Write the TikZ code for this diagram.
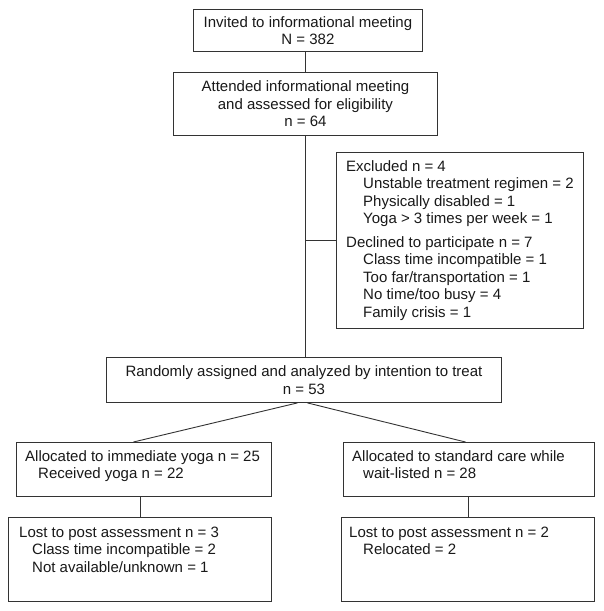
\documentclass[tikz,border=0pt]{standalone}
\usepackage{fontspec}
\setmainfont{Liberation Sans}
\usetikzlibrary{calc}
\begin{document}
\begin{tikzpicture}[x=1pt,y=-1pt,
  box/.style={draw=black!80, line width=0.9pt, rectangle, inner sep=0pt, anchor=north west},
  ctext/.style={align=center, font=\fontsize{15}{17.5}\selectfont, text=black!90},
  ltext/.style={anchor=north west, inner sep=0pt, font=\fontsize{15}{17.5}\selectfont, text=black!90},
  conn/.style={draw=black!80, line width=0.9pt}]
\useasboundingbox[fill=white] (0,0) rectangle (604,611);

% boxes
\node[box, ctext, minimum width=229pt, minimum height=42pt] (b1) at (193,9)
  {Invited to informational meeting\\N = 382};
\node[box, ctext, minimum width=264pt, minimum height=63pt] (b2) at (173,72)
  {Attended informational meeting\\and assessed for eligibility\\n = 64};
\node[box, minimum width=247pt, minimum height=176pt] (ex) at (336,152) {};
\node[box, ctext, minimum width=395pt, minimum height=45pt] (b3) at (106,357)
  {Randomly assigned and analyzed by intention to treat\\n = 53};
\node[box, minimum width=255pt, minimum height=54pt] (L1) at (16,442) {};
\node[box, minimum width=251pt, minimum height=54pt] (R1) at (343,442) {};
\node[box, minimum width=263pt, minimum height=84pt] (L2) at (8,517) {};
\node[box, minimum width=253pt, minimum height=84pt] (R2) at (341,517) {};

% texts in left-aligned boxes
\node[ltext] (extext) at (346,158.75) {\begin{tabular}{@{}l@{}}
Excluded n = 4\\
\hspace*{17pt}Unstable treatment regimen = 2\\
\hspace*{17pt}Physically disabled = 1\\
\hspace*{17pt}Yoga > 3 times per week = 1\\[6pt]
Declined to participate n = 7\\
\hspace*{17pt}Class time incompatible = 1\\
\hspace*{17pt}Too far/transportation = 1\\
\hspace*{17pt}No time/too busy = 4\\
\hspace*{17pt}Family crisis = 1
\end{tabular}};
\node[ltext] (l1text) at (25,449) {\begin{tabular}{@{}l@{}}
Allocated to immediate yoga n = 25\\
\hspace*{13pt}Received yoga n = 22
\end{tabular}};
\node[ltext] (r1text) at (352,449) {\begin{tabular}{@{}l@{}}
Allocated to standard care while\\
\hspace*{11pt}wait-listed n = 28
\end{tabular}};
\node[ltext] (l2text) at (19,525) {\begin{tabular}{@{}l@{}}
Lost to post assessment n = 3\\
\hspace*{13pt}Class time incompatible = 2\\
\hspace*{13pt}Not available/unknown = 1
\end{tabular}};
\node[ltext] (r2text) at (349,525) {\begin{tabular}{@{}l@{}}
Lost to post assessment n = 2\\
\hspace*{14pt}Relocated = 2
\end{tabular}};

% connectors
\draw[conn] (b2.north) -- (b2.north |- b1.south);
\draw[conn] (b2.south) -- (b2.south |- b3.north);
\draw[conn] (b2.south |- ex.west) -- (ex.west);
\draw[conn] ($(b3.south)+(-6.5,0)$) -- ($(L1.north)+(-10.5,0)$);
\draw[conn] ($(b3.south)+(3.5,0)$) -- ($(R1.north)+(-3.5,0)$);
\draw[conn] (L2.north) -- (L2.north |- L1.south);
\draw[conn] (R2.north) -- (R2.north |- R1.south);
\end{tikzpicture}
\end{document}
